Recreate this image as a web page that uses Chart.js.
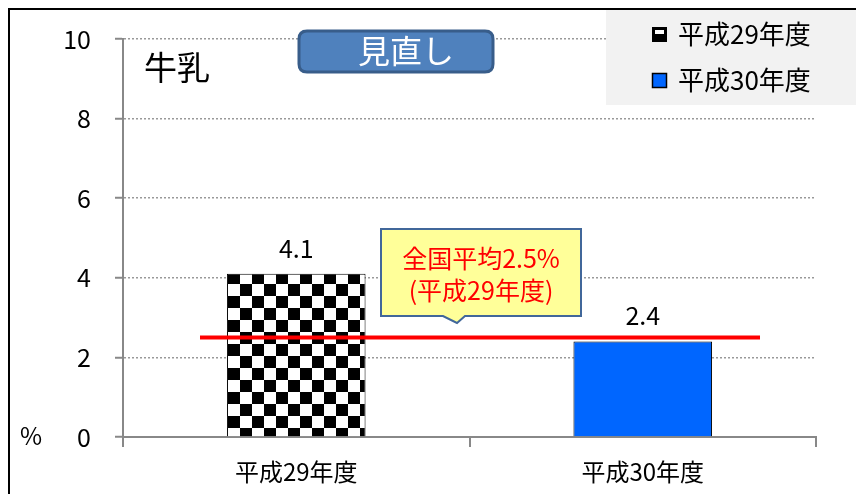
<!DOCTYPE html>
<html>
<head>
<meta charset="utf-8">
<script src="https://cdn.jsdelivr.net/npm/chart.js@4.4.1/dist/chart.umd.min.js"></script>
<style>
  html, body { margin: 0; padding: 0; background: #fff; }
  canvas { display: block; }
</style>
</head>
<body>
<canvas id="milkChart" width="856" height="494"></canvas>
<script>
// data
const categories = ['平成29年度', '平成30年度'];
const rates = [4.1, 2.4];
const nationalAverage = 2.5;
const averageLabel = ['全国平均2.5%', '(平成29年度)'];
const yTicks = [0, 2, 4, 6, 8, 10];
const chartTitle = '牛乳';
const badgeText = '見直し';
const unitLabel = '%';

const JP = "'Noto Sans CJK JP', 'Noto Sans', sans-serif";

const canvas = document.getElementById('milkChart');
const ctx = canvas.getContext('2d');

// checkerboard fill for the first bar
function checker(size) {
    const c = document.createElement('canvas');
    c.width = c.height = size * 2;
    const g = c.getContext('2d');
    g.fillStyle = '#fff';
    g.fillRect(0, 0, size * 2, size * 2);
    g.fillStyle = '#000';
    g.fillRect(0, 0, size, size);
    g.fillRect(size, size, size, size);
    const p = ctx.createPattern(c, 'repeat');
    p.setTransform(new DOMMatrix().translate(12, 8));
    return p;
}
const barColors = [checker(12), '#0066ff'];

function roundRect(g, x, y, w, h, r) {
    g.beginPath();
    g.moveTo(x + r, y);
    g.lineTo(x + w - r, y);
    g.quadraticCurveTo(x + w, y, x + w, y + r);
    g.lineTo(x + w, y + h - r);
    g.quadraticCurveTo(x + w, y + h, x + w - r, y + h);
    g.lineTo(x + r, y + h);
    g.quadraticCurveTo(x, y + h, x, y + h - r);
    g.lineTo(x, y + r);
    g.quadraticCurveTo(x, y, x + r, y);
    g.closePath();
}

const overlay = {
    id: 'overlay',
    afterDraw(chart) {
        const g = chart.ctx;
        const y = chart.scales.y;
        g.save();

        // outer frame (right and bottom fall outside the picture)
        g.strokeStyle = '#000';
        g.lineWidth = 2;
        g.strokeRect(9, 9, 860, 500);

        // value labels above bars
        g.fillStyle = '#000';
        g.font = '25px ' + JP;
        g.textAlign = 'center';
        g.textBaseline = 'alphabetic';
        const meta = chart.getDatasetMeta(0);
        meta.data.forEach((bar, i) => {
            g.fillText(rates[i].toFixed(1), bar.x, bar.y - 16);
        });

        // national average line
        const ay = y.getPixelForValue(nationalAverage);
        g.strokeStyle = '#ff0000';
        g.lineWidth = 4;
        g.beginPath();
        g.moveTo(200, ay);
        g.lineTo(760, ay);
        g.stroke();

        // callout
        g.fillStyle = '#ffff99';
        g.strokeStyle = '#41679a';
        g.lineWidth = 2;
        g.beginPath();
        g.moveTo(381, 229);
        g.lineTo(581, 229);
        g.lineTo(581, 316);
        g.lineTo(465, 316);
        g.lineTo(457, 323);
        g.lineTo(443, 316);
        g.lineTo(381, 316);
        g.closePath();
        g.fill();
        g.stroke();
        g.fillStyle = '#ff0000';
        g.font = '25px ' + JP;
        g.textBaseline = 'middle';
        g.fillText(averageLabel[0], 481, 258);
        g.fillText(averageLabel[1], 481, 290);

        // title
        g.fillStyle = '#000';
        g.font = '33px ' + JP;
        g.textAlign = 'left';
        g.fillText(chartTitle, 144, 67);

        // badge
        roundRect(g, 299, 31, 194, 41, 8);
        g.fillStyle = '#4f81bd';
        g.fill();
        g.strokeStyle = '#385d8a';
        g.lineWidth = 3;
        g.stroke();
        g.fillStyle = '#fff';
        g.font = '32px ' + JP;
        g.textAlign = 'center';
        g.fillText(badgeText, 406, 51);

        // legend
        g.fillStyle = '#f2f2f2';
        g.fillRect(606, 10, 250, 95);
        const rows = [34, 80];
        categories.forEach((label, i) => {
            const iy = rows[i] - 7;
            if (i === 0) {
                g.fillStyle = '#000';
                g.fillRect(652, iy, 15, 15);
                g.fillStyle = '#fff';
                g.fillRect(655, iy + 3, 9, 4);
            } else {
                g.fillStyle = barColors[1];
                g.fillRect(652, iy, 15, 15);
                g.strokeStyle = '#000';
                g.lineWidth = 1.5;
                g.strokeRect(652.5, iy + 0.5, 14, 14);
            }
            g.fillStyle = '#000';
            g.font = '26px ' + JP;
            g.textAlign = 'left';
            g.fillText(label, 678, rows[i]);
        });

        // unit
        g.font = '24px ' + JP;
        g.fillText(unitLabel, 20, 436);

        g.restore();
    }
};

new Chart(ctx, {
    type: 'bar',
    data: {
        labels: categories,
        datasets: [{
            data: rates,
            backgroundColor: barColors,
            borderColor: '#000',
            borderWidth: 1,
            categoryPercentage: 1,
            barPercentage: 0.4
        }]
    },
    options: {
        responsive: false,
        devicePixelRatio: 1,
        animation: false,
        layout: { padding: { left: 0, top: 34, right: 40, bottom: 0 } },
        plugins: {
            legend: { display: false },
            tooltip: { enabled: false }
        },
        scales: {
            x: {
                afterFit(scale) { scale.height = 57; },
                grid: {
                    drawOnChartArea: false,
                    color: '#888',
                    tickLength: 10,
                    lineWidth: 2
                },
                border: { color: '#888', width: 2 },
                ticks: {
                    color: '#000',
                    padding: 10,
                    font: { size: 24, family: JP }
                }
            },
            y: {
                min: 0,
                max: 10,
                afterFit(scale) { scale.width = 123; },
                afterBuildTicks(scale) {
                    scale.ticks = yTicks.map(v => ({ value: v }));
                },
                grid: {
                    color: c => (c.tick && c.tick.value === 0) ? 'rgba(0,0,0,0)' : '#999',
                    lineWidth: 1.5,
                    tickColor: '#888',
                    tickLength: 8,
                    tickWidth: 2,
                    tickBorderDash: []
                },
                border: { color: '#888', width: 2, dash: [2, 2] },
                ticks: {
                    color: '#000',
                    padding: 24,
                    font: { size: 25, family: JP }
                }
            }
        }
    },
    plugins: [overlay]
});
</script>
</body>
</html>
